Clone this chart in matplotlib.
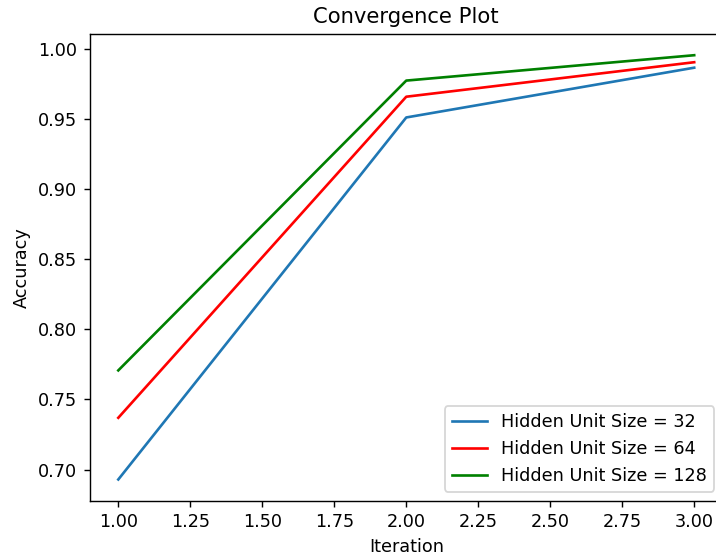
import matplotlib
matplotlib.use("Agg")
import matplotlib.pyplot as plt

iterations = [1, 2, 3]
acc_32 = [0.6929, 0.9511, 0.9866]
acc_64 = [0.7369, 0.9659, 0.9905]
acc_128 = [0.7707, 0.9774, 0.9955]
labels = ["Hidden Unit Size = 32", "Hidden Unit Size = 64", "Hidden Unit Size = 128"]
colors = ["#1f77b4", "red", "green"]

DPI = 127
W, H = 716, 560
fig = plt.figure(figsize=(W / DPI, H / DPI), dpi=DPI)
left, right, top, bottom = 89.5, 723.0, 34.0, 500.7
ax = fig.add_axes([left / W, (H - bottom) / H, (right - left) / W, (bottom - top) / H])
for y, lab, c in zip([acc_32, acc_64, acc_128], labels, colors):
    ax.plot(iterations, y, color=c, label=lab)
ax.set_title("Convergence Plot")
ax.set_xlabel("Iteration")
ax.set_ylabel("Accuracy")
ax.legend(loc="lower right")
fig.savefig("out.png", dpi=DPI)
